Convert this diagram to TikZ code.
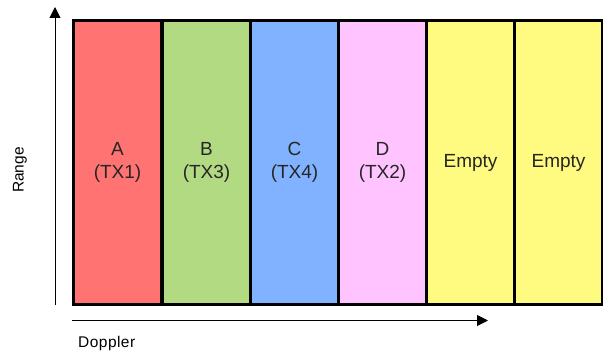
\documentclass[tikz,border=0pt]{standalone}
\usepackage{fontspec}
\setmainfont{Liberation Sans}
\usetikzlibrary{arrows.meta}
\definecolor{cA}{RGB}{255,115,115}
\definecolor{cB}{RGB}{178,218,130}
\definecolor{cC}{RGB}{128,178,255}
\definecolor{cD}{RGB}{255,196,255}
\definecolor{cE}{RGB}{255,250,128}
\begin{document}
\begin{tikzpicture}[x=1pt,y=-1pt,
  blk/.style={draw=black,line width=3pt,minimum width=88pt,minimum height=284pt,inner sep=0pt,anchor=north west,align=center,font=\fontsize{19}{23}\selectfont,text=black!85},
  axis/.style={line width=1pt,-{Triangle[length=11pt,width=11pt]}},
  lbl/.style={font=\fontsize{15.5}{17}\selectfont,inner sep=0pt}]
\useasboundingbox (0,0) rectangle (603,352);
\node[blk,fill=cA] (a) at (72,19) {A\\(TX1)};
\node[blk,fill=cB] (b) at (161,19) {B\\(TX3)};
\node[blk,fill=cC] (c) at (249,19) {C\\(TX4)};
\node[blk,fill=cD] (d) at (337,19) {D\\(TX2)};
\node[blk,fill=cE] (e1) at (425,19) {Empty};
\node[blk,fill=cE] (e2) at (513,19) {Empty};
\coordinate (vb) at (55,305);
\coordinate (vt) at (55,7);
\coordinate (hb) at (72,320.5);
\coordinate (ht) at (488,320.5);
\draw[axis] (vb) -- (vt);
\draw[axis] (hb) -- (ht);
\node[lbl,rotate=90] (range) at (20,170) {Range};
\node[lbl,anchor=west] (dop) at (78,343) {\addfontfeature{LetterSpace=3}Doppler};
\end{tikzpicture}
\end{document}
